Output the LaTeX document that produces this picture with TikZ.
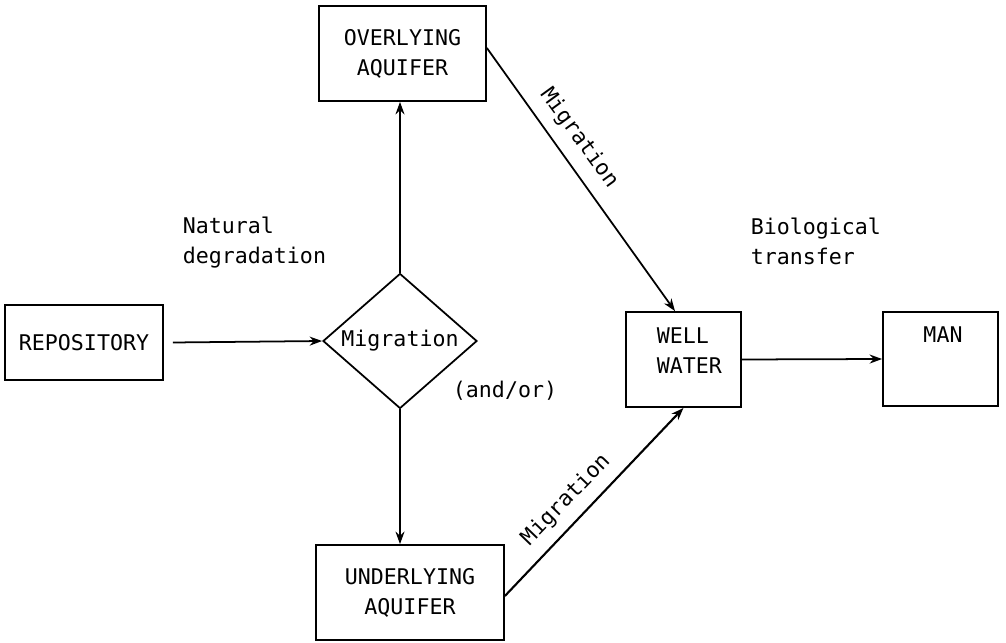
\documentclass[tikz,border=0pt]{standalone}
\usepackage{fontspec}
\setmonofont{DejaVu Sans Mono}
\usetikzlibrary{shapes.geometric,arrows.meta}

\begin{document}
\begin{tikzpicture}[font=\ttfamily\fontsize{12.3}{17}\selectfont, line width=1pt,
    box/.style={draw, rectangle, inner sep=0pt, align=center},
    flow/.style={-{Stealth[length=2.5mm,width=1.8mm]}}]
    \useasboundingbox (0,0) rectangle (20.12,12.84);
    % boxes
    \node[box, minimum width=3.16cm, minimum height=1.5cm] (repo) at (1.68,5.99) {REPOSITORY};
    \node[diamond, draw, aspect=1.14, minimum width=3.08cm, minimum height=2.7cm, inner sep=0pt] (mig) at (8.0,6.02) {Migration};
    \node[box, minimum width=3.34cm, minimum height=1.9cm] (over) at (8.05,11.77) {OVERLYING\\AQUIFER};
    \node[box, minimum width=3.76cm, minimum height=1.9cm] (under) at (8.2,0.99) {UNDERLYING\\AQUIFER};
    \node[box, minimum width=2.3cm, minimum height=1.9cm] (well) at (13.67,5.65) {};
    \node[box, minimum width=2.3cm, minimum height=1.88cm] (man) at (18.81,5.66) {};
    \node[anchor=west, align=left, inner sep=0pt] (welltxt) at (13.12,5.82) {WELL\\WATER};
    \node (mantxt) at (18.86,6.14) {MAN};

    % pathways
    \draw[flow] ([xshift=0.18cm]repo.east) -- (mig.west);
    \draw[flow] (mig.north) -- (mig.north |- over.south);
    \draw[flow] (mig.south) -- (mig.south |- under.north);
    \draw[flow] ([yshift=0.11cm]over.east) -- ([xshift=-0.17cm]well.north);
    \draw[flow, line width=1.2pt] ([yshift=-0.07cm]under.east) -- (well.south);
    \draw[flow] (well.east) -- (man.west);

    % labels
    \node[anchor=west, align=left, inner sep=0pt] (natural) at (3.64,7.99) {Natural\\degradation};
    \node[anchor=west, align=left, inner sep=0pt] (bio) at (15.0,8.01) {Biological\\transfer};
    \node (andor) at (10.1,5.02) {(and/or)};
    \node[rotate=-54] (migup) at (11.58,10.08) {Migration};
    \node[rotate=46] (miglow) at (11.32,2.84) {Migration};
\end{tikzpicture}
\end{document}
